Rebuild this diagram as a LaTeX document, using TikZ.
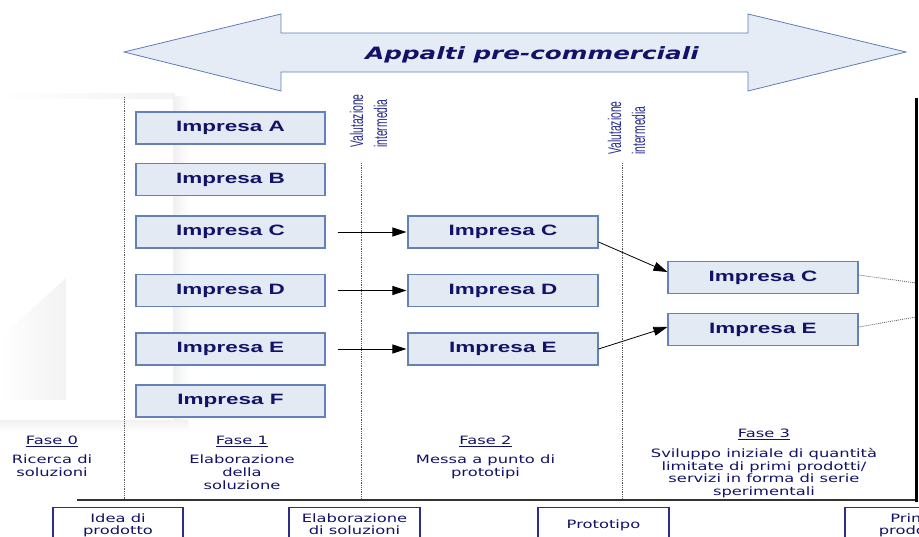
\documentclass[tikz,border=0pt]{standalone}
\usepackage{fontspec}
\usepackage{graphicx}
\usetikzlibrary{arrows.meta}
\setmainfont{DejaVu Sans}
\newfontfamily\boxfont{Liberation Sans}[FakeStretch=1.5]
\newfontfamily\fasefont{DejaVu Sans}[FakeStretch=1.42]
\newfontfamily\titlefont{DejaVu Sans}[FakeStretch=1.45]
\newfontfamily\valfont{Liberation Sans}[FakeStretch=0.85]
\definecolor{navy}{RGB}{18,18,105}
\definecolor{boxfill}{RGB}{228,234,243}
\definecolor{boxline}{RGB}{100,130,185}
\definecolor{arrfill}{RGB}{230,236,245}
\definecolor{arrline}{RGB}{95,125,180}
\definecolor{valblue}{RGB}{40,45,140}
\definecolor{botline}{RGB}{45,45,140}
\begin{document}
\begin{tikzpicture}[x=1pt,y=-1pt,
  impbox/.style={draw=boxline, fill=boxfill, line width=1.1pt, minimum width=189pt,
    minimum height=32pt, inner sep=0pt, text=navy,
    font=\boxfont\bfseries\fontsize{15}{18}\selectfont},
  fasetxt/.style={anchor=north, inner sep=0pt, align=center, text=navy,
    font=\fasefont\fontsize{11.5}{13}\selectfont},
  valtxt/.style={anchor=south west, inner sep=0pt, text=valblue,
    font=\valfont\fontsize{12.2}{16}\selectfont},
  botbox/.style={draw=botline, line width=1.4pt, fill=white, minimum width=130pt,
    minimum height=60pt, anchor=north, inner sep=0pt},
  botlbl/.style={anchor=north, inner sep=0pt, align=center, text=navy,
    font=\fasefont\fontsize{11.5}{12}\selectfont},
  dotline/.style={draw=black!65, line width=0.8pt, dash pattern=on 1pt off 0.8pt},
  arr/.style={draw=black, line width=0.8pt, -{Triangle[length=14pt,width=9pt]}},
  dotlink/.style={draw=black!60, line width=0.8pt, dash pattern=on 1pt off 1pt}]
\useasboundingbox (0,0) rectangle (919,537);
% faint background watermark
\shade[left color=white, right color=black!5] (0,94) rectangle (175,99);
\shade[left color=black!6, right color=white] (173,97) rectangle (190,432);
\shade[top color=black!5, bottom color=white] (0,421) rectangle (188,432);
\shade[left color=white, right color=black!5] (0,338) -- (66,278) -- (66,400) -- (0,400) -- cycle;
% big double arrow
\draw[draw=arrline, fill=arrfill, line width=0.8pt]
  (124,52) -- (281,14) -- (281,33) -- (748,33) -- (748,14) -- (906,52)
  -- (748,91) -- (748,72) -- (281,72) -- (281,91) -- cycle;
\node[anchor=base, inner sep=0pt, text=navy,
  font=\titlefont\bfseries\itshape\fontsize{17}{20}\selectfont] (title) at (532,60) {Appalti pre-commerciali};
% vertical dotted separators
\coordinate (s0t) at (124,97);  \coordinate (s0b) at (124,500);
\coordinate (s1t) at (361,163); \coordinate (s1b) at (361,500);
\coordinate (s2t) at (622,163); \coordinate (s2b) at (622,500);
\draw[dotline] (s0t) -- (s0b);
\draw[dotline] (s1t) -- (s1b);
\draw[dotline] (s2t) -- (s2b);
% baseline and black bar
\coordinate (hl) at (77,500); \coordinate (hr) at (916,500);
\draw[black!80, line width=1.2pt] (hl) -- (hr);
\coordinate (bt) at (916.5,98); \coordinate (bb) at (916.5,502);
\draw[black, line width=3pt] (bt) -- (bb);
% valutazione intermedia
\node[valtxt] (v1) at (346,148) {\rotatebox{90}{\scalebox{1}[1.5]{\begin{tabular}{@{}l@{}}Valutazione\\intermedia\end{tabular}}}};
\node[valtxt] (v2) at (604,155) {\rotatebox{90}{\scalebox{1}[1.5]{\begin{tabular}{@{}l@{}}Valutazione\\intermedia\end{tabular}}}};
% column 1
\node[impbox] (a1) at (230.5,128) {Impresa A};
\node[impbox] (b1) at (230.5,179.5) {Impresa B};
\node[impbox] (c1) at (230.5,232) {Impresa C};
\node[impbox] (d1) at (230.5,290.5) {Impresa D};
\node[impbox] (e1) at (230.5,349) {Impresa E};
\node[impbox] (f1) at (230.5,401) {Impresa F};
% column 2
\node[impbox, minimum width=190pt] (c2) at (503,232) {Impresa C};
\node[impbox, minimum width=190pt] (d2) at (503,290.5) {Impresa D};
\node[impbox, minimum width=190pt] (e2) at (503,349) {Impresa E};
% column 3
\node[impbox, minimum width=190pt] (c3) at (763,277.5) {Impresa C};
\node[impbox, minimum width=190pt] (e3) at (763,329.5) {Impresa E};
% arrows
\draw[arr, shorten <=12pt, shorten >=1pt] (c1.east) -- (c2.west);
\draw[arr, shorten <=12pt, shorten >=1pt] (d1.east) -- (d2.west);
\draw[arr, shorten <=12pt, shorten >=1pt] (e1.east) -- (e2.west);
\draw[arr] ([yshift=-10pt]c2.east) -- ([yshift=5.5pt]c3.west);
\draw[arr] (e2.east) -- ([yshift=2.5pt]e3.west);
\coordinate (pc) at (916,283);
\coordinate (pe) at (916,317);
\draw[dotlink] ([yshift=2.5pt]c3.east) -- (pc);
\draw[dotlink] ([yshift=2.5pt]e3.east) -- (pe);
% phase labels
\node[fasetxt] (f0) at (52,435.6) {\underline{Fase 0}\\[6pt]Ricerca di\\soluzioni};
\node[fasetxt] (f1t) at (242,435.6) {\underline{Fase 1}\\[6pt]Elaborazione\\della\\soluzione};
\node[fasetxt] (f2t) at (485.5,435.6) {\underline{Fase 2}\\[6pt]Messa a punto di\\prototipi};
\node[fasetxt, font=\fasefont\fontsize{11.5}{12.7}\selectfont] (f3t) at (764,428.6) {\underline{Fase 3}\\[7.3pt]Sviluppo iniziale di quantità\\limitate di primi prodotti/\\servizi in forma di serie\\sperimentali};
% bottom boxes
\node[botbox, label={[botlbl, yshift=-6.3pt]90:{Idea di\\prodotto}}] (bx1) at (118,507) {};
\node[botbox, minimum width=131pt, label={[botlbl, yshift=-6.3pt]90:{Elaborazione\\di soluzioni}}] (bx2) at (354.5,507) {};
\node[botbox, minimum width=131pt, label={[botlbl, yshift=-12.6pt]90:{Prototipo}}] (bx3) at (603.5,507) {};
\node[botbox, minimum width=132pt, label={[botlbl, yshift=-6.3pt]90:{Primi\\prodotti}}] (bx4) at (911,507) {};
\end{tikzpicture}
\end{document}
